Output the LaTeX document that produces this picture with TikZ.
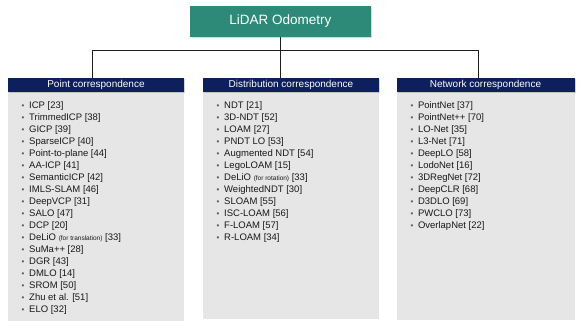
\documentclass[tikz,border=0pt]{standalone}
\usepackage{fontspec}
\setmainfont{Liberation Sans}
\setsansfont{Liberation Sans}
\usetikzlibrary{positioning, shadows}
\definecolor{cteal}{HTML}{2E8A78}
\definecolor{cnavy}{HTML}{0D1F5C}
\definecolor{cbody}{HTML}{E6E6E6}
\definecolor{cbul}{HTML}{5A5A5A}
\definecolor{cline}{HTML}{1E1E1E}
\newcommand{\li}{\makebox[7.5pt][l]{\textcolor{cbul}{\footnotesize\textbullet}}}
\newcommand{\smallnote}[1]{{\fontsize{6.5}{8}\selectfont #1}}
\tikzset{
  every picture/.style={font=\sffamily},
  root/.style={fill=cteal, text=white, font=\sffamily\fontsize{13.5}{16}\selectfont, minimum width=180.7pt, minimum height=30.7pt, inner sep=0pt, drop shadow={shadow xshift=1pt, shadow yshift=-1pt, opacity=0.3}},
  head/.style={fill=cnavy, text=white, font=\sffamily\fontsize{10}{12}\selectfont, minimum width=#1, minimum height=14.6pt, inner sep=0pt, outer sep=0pt, drop shadow={shadow xshift=1pt, shadow yshift=-1pt, opacity=0.35}},
  head/.default=176.5pt,
  body/.style={fill=cbody, minimum width=#1, inner sep=0pt, outer sep=0pt, anchor=north west},
  body/.default=176.5pt,
  list/.style={align=left, inner sep=0pt, outer sep=0pt, text=black!90, font=\sffamily\fontsize{9.5}{12}\selectfont},
  conn/.style={draw=cline, line width=0.8pt},
}

\begin{document}
\begin{tikzpicture}[x=1pt, y=1pt]
  \useasboundingbox (0,0) rectangle (581,-331);
  \node[root] (lo) at (280.4,-21.4) {LiDAR Odometry};
  % grey columns
  \node[body, minimum height=228.2pt] (pb) at (7.7,-92.3) {};
  \node[body, minimum height=227pt] (db) at (202.7,-92.3) {};
  \node[body=178pt, minimum height=227.7pt] (nb) at (396.5,-92.3) {};
  \node[head, above=0pt of pb] (ph) {Point correspondence};
  \node[head, above=0pt of db] (dh) {Distribution correspondence};
  \node[head=178pt, above=0pt of nb] (nh) {Network correspondence};
  % connectors
  \coordinate (jl) at (92.7,-50.5);
  \coordinate (jr) at (478,-50.5);
  \draw[conn] (lo) -- (lo |- dh.north);
  \draw[conn] (ph.north -| jl) -- (jl) -- (jr) -- (nh.north -| jr);
  % lists
  \node[list, below right=9.2pt and 14pt of pb.north west] (pl) {\li ICP [23]\\ \li TrimmedICP [38]\\ \li GICP [39]\\ \li SparseICP [40]\\ \li Point-to-plane [44]\\ \li AA-ICP [41]\\ \li SemanticICP [42]\\ \li IMLS-SLAM [46]\\ \li DeepVCP [31]\\ \li SALO [47]\\ \li DCP [20]\\ \li DeLiO \smallnote{(for translation)} [33]\\ \li SuMa++ [28]\\ \li DGR [43]\\ \li DMLO [14]\\ \li SROM [50]\\ \li Zhu et al. [51]\\ \li ELO [32]};
  \node[list, below right=9.2pt and 14pt of db.north west] (dl) {\li NDT [21]\\ \li 3D-NDT [52]\\ \li LOAM [27]\\ \li PNDT LO [53]\\ \li Augmented NDT [54]\\ \li LegoLOAM [15]\\ \li DeLiO \smallnote{(for rotation)} [33]\\ \li WeightedNDT [30]\\ \li SLOAM [55]\\ \li ISC-LOAM [56]\\ \li F-LOAM [57]\\ \li R-LOAM [34]};
  \node[list, below right=9.2pt and 14pt of nb.north west] (nl) {\li PointNet [37]\\ \li PointNet++ [70]\\ \li LO-Net [35]\\ \li L3-Net [71]\\ \li DeepLO [58]\\ \li LodoNet [16]\\ \li 3DRegNet [72]\\ \li DeepCLR [68]\\ \li D3DLO [69]\\ \li PWCLO [73]\\ \li OverlapNet [22]};
\end{tikzpicture}
\end{document}
